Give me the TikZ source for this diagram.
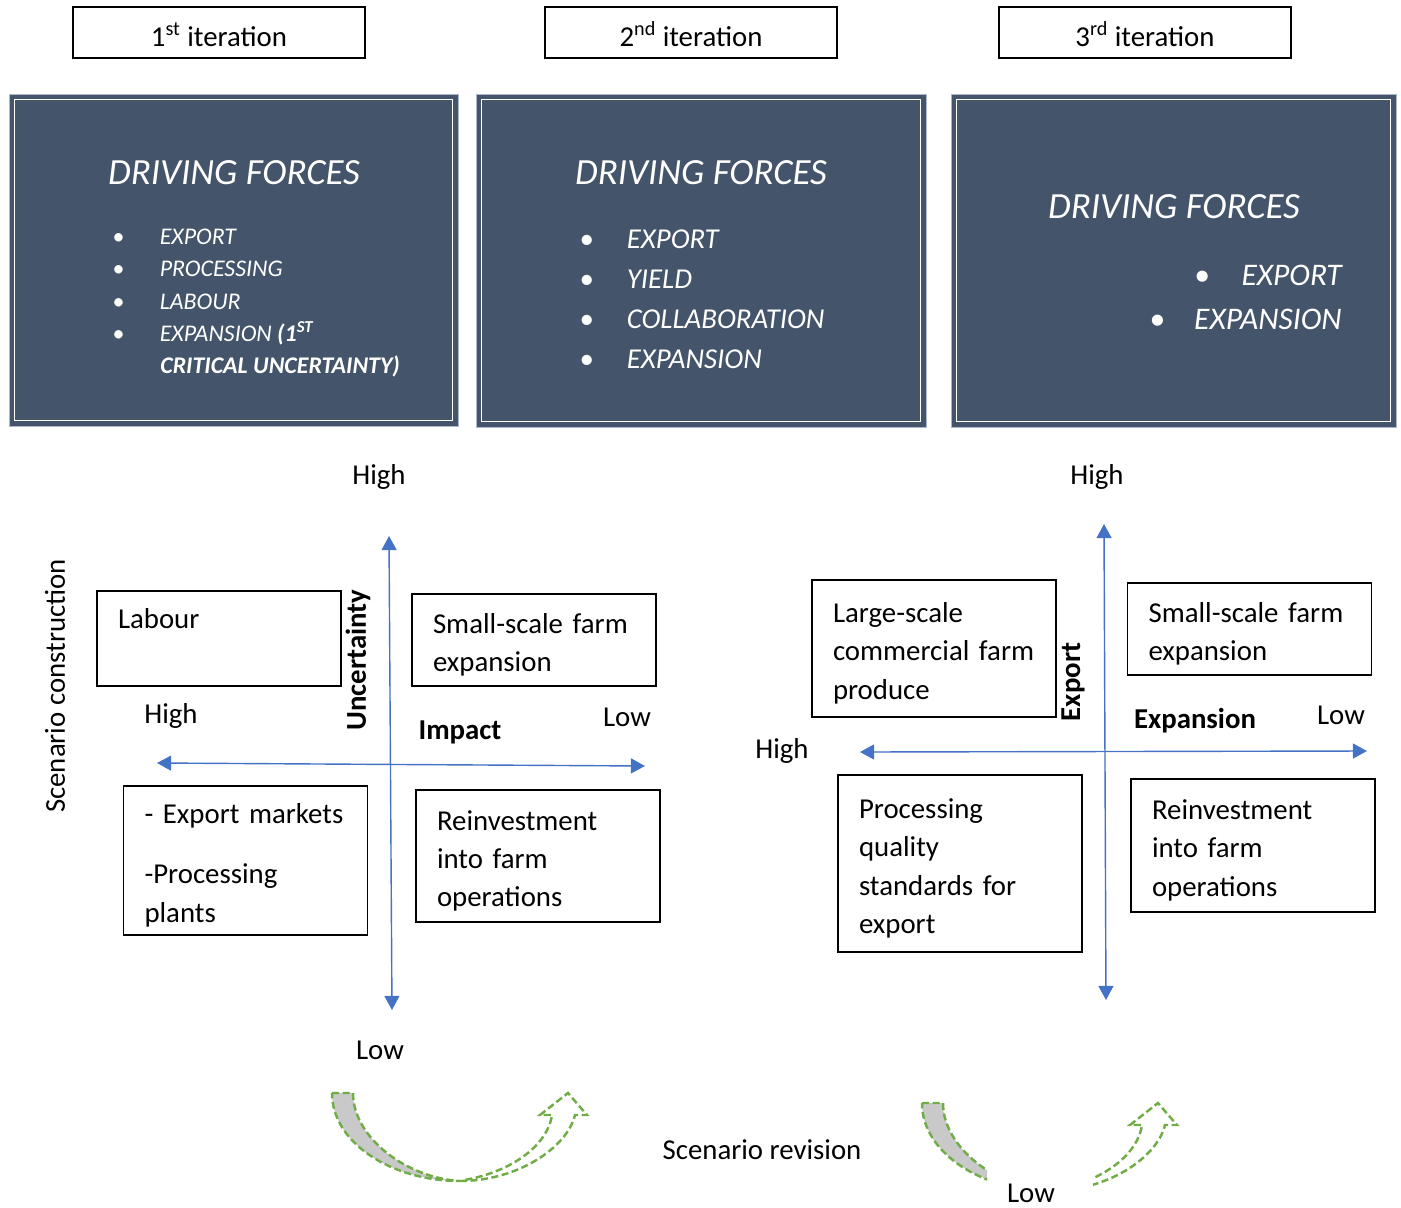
\documentclass[tikz,border=0pt]{standalone}
\usepackage{fontspec}
\setmainfont{Carlito}
\usetikzlibrary{arrows.meta,positioning}

\definecolor{slate}{HTML}{44546A}
\definecolor{slateedge}{HTML}{ADB9CA}
\definecolor{axisblue}{HTML}{4472C4}
\definecolor{revgreen}{HTML}{70AD47}
\definecolor{revgray}{HTML}{C9C9C9}

\tikzstyle{iter} = [draw, line width=0.8pt, minimum width=5.84cm, minimum height=1.02cm, text height=15.6pt, text depth=0pt, font=\fontsize{16.4}{19.7}\selectfont]
\tikzstyle{forces} = [draw=slateedge, fill=slate, line width=0.5pt, minimum width=8.98cm, minimum height=6.64cm]
\tikzstyle{forcestitle} = [text=white, font=\fontsize{21}{25}\selectfont\itshape]
\tikzstyle{forceitem} = [text=white, anchor=west, inner sep=0pt, text height=0.64em, text depth=0pt]
\tikzstyle{quadbox} = [draw, line width=0.8pt, align=left, text width=4.04cm, inner xsep=0.42cm, text height=16.8pt, font=\fontsize{16.4}{21.8}\selectfont]
\tikzstyle{lbl} = [font=\fontsize{16.4}{19.7}\selectfont]
\tikzstyle{axislbl} = [font=\fontsize{16.4}{19.7}\selectfont\bfseries]
\tikzstyle{axisline} = [draw=axisblue, line width=0.8pt, {Triangle[length=8pt,width=8.5pt]}-{Triangle[length=8pt,width=8.5pt]}]
\tikzstyle{revline} = [draw=revgreen, line width=1.4pt, dash pattern=on 4pt off 2pt]

\newcommand{\bul}{\makebox[0.95cm][l]{\textbullet}}
% curved revision arrow, origin at its top left corner
\newcommand{\revarrow}{%
  \path[revline, fill=revgray] (0,0) -- (21,0) .. controls (21,45) and (75,85) .. (128,88)
    .. controls (60,88) and (0,50) .. cycle;
  \path[revline] (128,88) .. controls (185,88) and (235,55) .. (243,22) -- (255,22) -- (236,0)
    -- (208,22) -- (220,22) .. controls (215,55) and (175,80) .. (132,87);
}

\begin{document}
\begin{tikzpicture}[x=0.02cm, y=-0.02cm]
	\useasboundingbox (0,0) rectangle (1401,1208);

	% iterations
	\node [iter] (it1) at (219,32.5) {1\textsuperscript{st} iteration};
	\node [iter] (it2) at (691,32.5) {2\textsuperscript{nd} iteration};
	\node [iter] (it3) at (1145,32.5) {3\textsuperscript{rd} iteration};

	% driving forces boxes
	\node [forces] (df1) at (233.5,260) {};
	\node [forces, minimum width=9cm, minimum height=6.66cm] (df2) at (701,260.5) {};
	\node [forces, minimum width=8.9cm, minimum height=6.66cm] (df3) at (1173.5,260.5) {};
	\draw [white, line width=1pt] ([shift={(6,6)}]df1.north west) rectangle ([shift={(-6,-6)}]df1.south east);
	\draw [white, line width=1pt] ([shift={(6,6)}]df2.north west) rectangle ([shift={(-6,-6)}]df2.south east);
	\draw [white, line width=1pt] ([shift={(6,6)}]df3.north west) rectangle ([shift={(-6,-6)}]df3.south east);

	\node [forcestitle] (t1) at (234,173) {DRIVING FORCES};
	\node [forcestitle] (t2) at (701,173) {DRIVING FORCES};
	\node [forcestitle] (t3) at (1174,207) {DRIVING FORCES};

	\node [forceitem, font=\fontsize{13.6}{16}\selectfont\itshape] (b1a) at (112,239) {\bul EXPORT};
	\node [forceitem, font=\fontsize{13.6}{16}\selectfont\itshape] (b1b) at (112,271) {\bul PROCESSING};
	\node [forceitem, font=\fontsize{13.6}{16}\selectfont\itshape] (b1c) at (112,304) {\bul LABOUR};
	\node [forceitem, font=\fontsize{13.6}{16}\selectfont\itshape] (b1d) at (112,336) {\bul EXPANSION \textbf{(1\textsuperscript{ST}}};
	\node [forceitem, font=\fontsize{13.6}{16}\selectfont\itshape\bfseries] (b1e) at (160,368) {CRITICAL UNCERTAINTY)};

	\node [forceitem, font=\fontsize{16.4}{19.7}\selectfont\itshape] (b2a) at (579,243) {\bul EXPORT};
	\node [forceitem, font=\fontsize{16.4}{19.7}\selectfont\itshape] (b2b) at (579,283) {\bul YIELD};
	\node [forceitem, font=\fontsize{16.4}{19.7}\selectfont\itshape] (b2c) at (579,323) {\bul COLLABORATION};
	\node [forceitem, font=\fontsize{16.4}{19.7}\selectfont\itshape] (b2d) at (579,363) {\bul EXPANSION};

	\node [forceitem, anchor=east, font=\fontsize{17.9}{21.5}\selectfont\itshape] (b3a) at (1342,280) {\bul EXPORT};
	\node [forceitem, anchor=east, font=\fontsize{17.9}{21.5}\selectfont\itshape] (b3b) at (1342,324) {\makebox[0.9cm][l]{\textbullet}EXPANSION};

	% first matrix: impact / uncertainty
	\coordinate (uTop) at (389,536);
	\coordinate (uBot) at (392,1010);
	\coordinate (iLeft) at (157,763);
	\coordinate (iRight) at (645,766);
	\draw [axisline] (uBot) -- (uTop);
	\draw [axisline] (iLeft) -- (iRight);

	\node [lbl] (uHigh) at (379,477) {High};
	\node [lbl] (uLow) at (380,1050) {Low};
	\node [lbl] (iHigh) at (171,716) {High};
	\node [lbl] (iLow) at (627,717) {Low};
	\node [axislbl] (impact) at (460,732) {Impact};
	\node [axislbl, rotate=90] (uncert) at (358,660) {Uncertainty};
	\node [lbl, rotate=90] (constr) at (55,686) {Scenario construction};

	\node [quadbox, minimum height=1.9cm] (labour) at (219,638.5) {Labour\\ \strut};
	\node [quadbox, minimum height=1.84cm] (smallL) at (534,640) {Small-scale~farm\\ expansion};
	\node [quadbox, minimum height=2.98cm] (exportL) at (245.5,860.5) {- Export~markets\\[0.44cm] -Processing\\ plants};
	\node [quadbox, minimum height=2.64cm] (reinvL) at (538,856) {Reinvestment\\ into~farm\\ operations};

	% second matrix: expansion / export
	\coordinate (xTop) at (1104,524);
	\coordinate (xBot) at (1106,1000);
	\coordinate (eLeft) at (860,752);
	\coordinate (eRight) at (1367,751);
	\draw [axisline] (xBot) -- (xTop);
	\draw [axisline] (eLeft) -- (eRight);

	\node [lbl] (xHigh) at (1097,477) {High};
	\node [lbl] (xLow) at (1031,1193) {Low};
	\node [lbl] (eHigh) at (782,751) {High};
	\node [lbl] (eLow) at (1341,715) {Low};
	\node [axislbl] (expans) at (1195,721) {Expansion};
	\node [axislbl, rotate=90] (export) at (1073,682) {Export};

	\node [quadbox, minimum height=2.74cm] (largeR) at (934,648.5) {Large-scale\\ commercial~farm\\ produce};
	\node [quadbox, minimum height=1.84cm] (smallR) at (1249.5,629) {Small-scale~farm\\ expansion};
	\node [quadbox, minimum height=3.54cm] (procR) at (960,863.5) {Processing\\ quality\\ standards~for\\ export};
	\node [quadbox, minimum height=2.66cm] (reinvR) at (1253,845.5) {Reinvestment\\ into~farm\\ operations};

	% revision
	\node [lbl] (revision) at (762,1150) {Scenario revision};
	\begin{scope}[shift={(332,1093)}]
		\revarrow
	\end{scope}
	\begin{scope}[shift={(922,1103)}]
		\clip (-10,-10) rectangle (65,100) (171,-10) rectangle (270,100);
		\revarrow
	\end{scope}
\end{tikzpicture}
\end{document}
